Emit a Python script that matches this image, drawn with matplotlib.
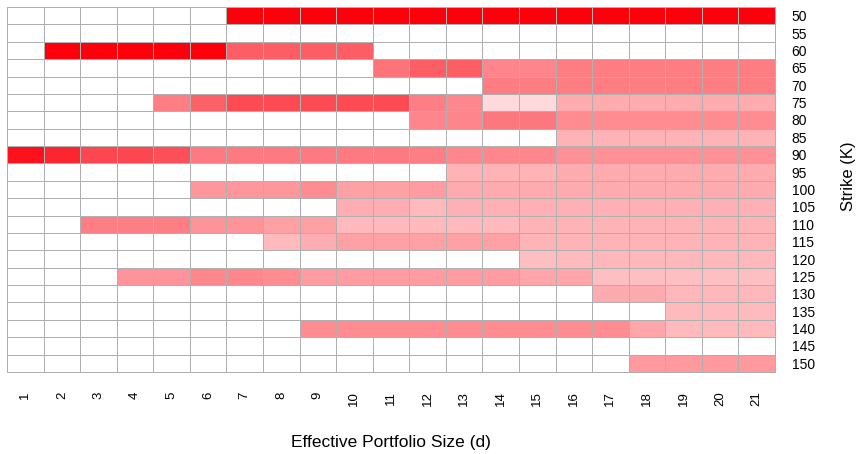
import numpy as np
import matplotlib.pyplot as plt
from matplotlib.colors import LinearSegmentedColormap

plt.rcParams['font.family'] = ['Liberation Sans', 'DejaVu Sans']

# portfolio sizes (columns) and strikes (rows)
sizes = list(range(1, 22))
strikes = list(range(50, 155, 5))

# shading: 0 = empty cell, 1 = full red
shade = [
    [0, 0, 0, 0, 0, 0, 1, 1, 1, 1, 1, 1, 1, 1, 1, 1, 1, 1, 1, 1, 1],                          # 50
    [0, 0, 0, 0, 0, 0, 0, 0, 0, 0, 0, 0, 0, 0, 0, 0, 0, 0, 0, 0, 0],                          # 55
    [0, 1, 1, 1, 1, 1, .63, .63, .63, .63, 0, 0, 0, 0, 0, 0, 0, 0, 0, 0, 0],                  # 60
    [0, 0, 0, 0, 0, 0, 0, 0, 0, 0, .55, .63, .63, .48, .48, .51, .51, .51, .51, .51, .51],    # 65
    [0, 0, 0, 0, 0, 0, 0, 0, 0, 0, 0, 0, 0, .51, .51, .51, .51, .51, .51, .51, .51],          # 70
    [0, 0, 0, 0, .5, .62, .71, .71, .71, .71, .71, .5, .47, .15, .15, .33, .33, .33, .33, .33, .33],  # 75
    [0, 0, 0, 0, 0, 0, 0, 0, 0, 0, 0, .48, .48, .53, .53, .45, .45, .45, .45, .45, .45],      # 80
    [0, 0, 0, 0, 0, 0, 0, 0, 0, 0, 0, 0, 0, 0, 0, .3, .3, .3, .3, .3, .3],                    # 85
    [.93, .85, .72, .72, .69, .52, .52, .52, .52, .52, .52, .5, .47, .47, .47, .43, .43, .43, .43, .43, .43],  # 90
    [0, 0, 0, 0, 0, 0, 0, 0, 0, 0, 0, 0, .3, .3, .3, .33, .33, .33, .33, .33, .33],          # 95
    [0, 0, 0, 0, 0, .41, .41, .41, .45, .37, .37, .39, .33, .33, .33, .33, .33, .33, .33, .33, .33],  # 100
    [0, 0, 0, 0, 0, 0, 0, 0, 0, .32, .32, .27, .31, .31, .31, .31, .31, .31, .31, .31, .31],  # 105
    [0, 0, .5, .5, .5, .42, .42, .37, .37, .27, .27, .27, .27, .27, .3, .3, .3, .3, .3, .3, .3],  # 110
    [0, 0, 0, 0, 0, 0, 0, .27, .32, .37, .37, .37, .37, .37, .3, .3, .3, .3, .3, .3, .3],     # 115
    [0, 0, 0, 0, 0, 0, 0, 0, 0, 0, 0, 0, 0, 0, .25, .27, .28, .28, .28, .28, .28],            # 120
    [0, 0, 0, .42, .42, .47, .47, .45, .39, .39, .39, .39, .39, .39, .35, .35, .25, .25, .25, .25, .25],  # 125
    [0, 0, 0, 0, 0, 0, 0, 0, 0, 0, 0, 0, 0, 0, 0, 0, .33, .33, .28, .28, .28],                # 130
    [0, 0, 0, 0, 0, 0, 0, 0, 0, 0, 0, 0, 0, 0, 0, 0, 0, 0, .27, .27, .27],                    # 135
    [0, 0, 0, 0, 0, 0, 0, 0, .45, .45, .45, .45, .45, .45, .45, .45, .45, .35, .27, .27, .27],  # 140
    [0, 0, 0, 0, 0, 0, 0, 0, 0, 0, 0, 0, 0, 0, 0, 0, 0, 0, 0, 0, 0],                          # 145
    [0, 0, 0, 0, 0, 0, 0, 0, 0, 0, 0, 0, 0, 0, 0, 0, 0, .4, .4, .4, .4],                      # 150
]

cmap = LinearSegmentedColormap.from_list('wr', ['#ffffff', '#fc000c'])

fig = plt.figure(figsize=(8.58, 4.54), dpi=100)
ax = fig.add_axes([7/858, 1-372/454, 768/858, 365/454])

mesh = ax.pcolormesh(np.array(shade), cmap=cmap, vmin=0, vmax=1,
                     edgecolors='#b0b0b0', linewidth=0.7)
mesh.set_clip_on(False)
ax.set_xlim(0, len(sizes))
ax.set_ylim(len(strikes), 0)

ax.set_xticks(np.arange(len(sizes)) + 0.5)
ax.set_xticklabels([str(s) for s in sizes], rotation=90, fontsize=9.5)
ax.set_yticks(np.arange(len(strikes)) + 0.5)
ax.set_yticklabels([str(k) for k in strikes], fontsize=10, ha='left')
ax.yaxis.tick_right()
ax.tick_params(axis='x', length=0, pad=14)
ax.tick_params(axis='y', length=0, pad=12)
for s in ax.spines.values():
    s.set_visible(False)

fig.text(391/858, 1-442/454, 'Effective Portfolio Size (d)', fontsize=12.5,
         ha='center', va='center')
fig.text(848/858, 1-176/454, 'Strike (K)', fontsize=12, rotation=90,
         ha='center', va='center')

fig.savefig('out.png', dpi=100)
